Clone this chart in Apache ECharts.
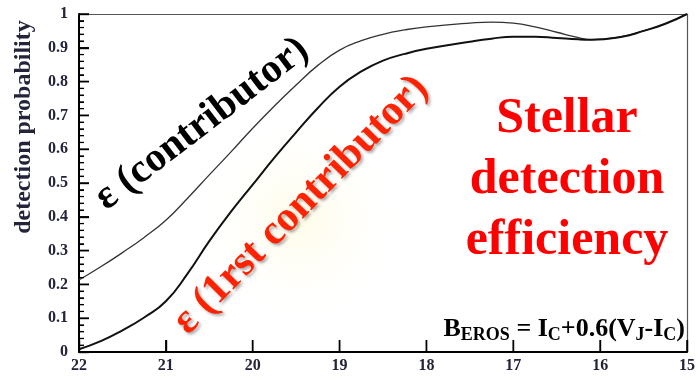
<!DOCTYPE html>
<html>
<head>
<meta charset="utf-8">
<script src="https://cdn.jsdelivr.net/npm/echarts@6/dist/echarts.min.js"></script>
<style>html,body{margin:0;padding:0;background:#fff;}#c{width:698px;height:380px;}</style>
</head>
<body>
<div id="c"></div>
<script>
// Magnitude B_EROS (x axis runs from 22 on the left to 15 on the right)
const magnitudes = [22, 21.75, 21.5, 21.25, 21, 20.75, 20.5, 20.25, 20, 19.75, 19.5, 19.25, 19, 18.75, 18.5, 18.25, 18, 17.5, 17.25, 17, 16.75, 16.5, 16.25, 16.1, 15.75, 15.5, 15.25, 15];
// ε (contributor)
const effContributor = [0.213, 0.252, 0.294, 0.339, 0.39, 0.455, 0.524, 0.592, 0.662, 0.728, 0.79, 0.848, 0.893, 0.921, 0.94, 0.953, 0.962, 0.973, 0.976, 0.973, 0.962, 0.946, 0.93, 0.924, 0.933, 0.95, 0.971, 1.0];
// ε (1rst contributor)
const effFirst = [0.008, 0.032, 0.064, 0.102, 0.15, 0.232, 0.328, 0.415, 0.495, 0.575, 0.65, 0.722, 0.785, 0.83, 0.862, 0.882, 0.897, 0.918, 0.927, 0.933, 0.933, 0.929, 0.925, 0.924, 0.933, 0.95, 0.971, 1.0];
// Axis ticks
const xTicks = [22, 21, 20, 19, 18, 17, 16, 15];
const yTicks = [0, 0.1, 0.2, 0.3, 0.4, 0.5, 0.6, 0.7, 0.8, 0.9, 1];
const yMinorPerMajor = 5;

const X_LEFT = 22, Y_BOTTOM = 0;
const yMinorTicks = [];
for (let i = 0; i < yTicks.length - 1; i++) {
  for (let k = 1; k < yMinorPerMajor; k++) {
    yMinorTicks.push(yTicks[i] + (yTicks[i + 1] - yTicks[i]) * k / yMinorPerMajor);
  }
}

const chart = echarts.init(document.getElementById('c'), null, {renderer: 'canvas'});
const serif = '"Liberation Serif", "DejaVu Serif", serif';
const tickColor = '#23233a';

const graphics = [
    {type: 'ellipse', id: 'glow', x: 300, y: 220, rotation: Math.PI / 4, z: 0, silent: true,
      shape: {cx: 0, cy: 0, rx: 210, ry: 110},
      style: {fill: new echarts.graphic.RadialGradient(0.5, 0.5, 0.5, [
        {offset: 0, color: 'rgba(255,250,215,0.6)'},
        {offset: 1, color: 'rgba(255,255,255,0)'}])}},
    {type: 'text', id: 'ytitle', x: 24, y: 127, rotation: Math.PI / 2, z: 10,
      style: {text: 'detection probability', x: 0, y: 0, align: 'center', verticalAlign: 'middle',
        font: 'bold 24px ' + serif, fill: tickColor}},
    {type: 'text', id: 'lab1', x: 202, y: 124, rotation: 37.5 * Math.PI / 180, z: 10,
      style: {text: 'ε (contributor)', x: 0, y: 0, align: 'center', verticalAlign: 'middle',
        font: 'bold 41px ' + serif, fill: '#000'}},
    {type: 'text', id: 'lab2', x: 301, y: 205, rotation: 45.5 * Math.PI / 180, z: 10,
      style: {text: 'ε (1rst contributor)', x: 0, y: 0, align: 'center', verticalAlign: 'middle',
        font: 'bold 42px ' + serif, fill: '#ff2200',
        textShadowColor: 'rgba(0,0,0,0.35)', textShadowBlur: 3, textShadowOffsetX: 2, textShadowOffsetY: 2}},
    {type: 'text', id: 'title', x: 567, y: 180, z: 10,
      style: {text: 'Stellar\ndetection\nefficiency', x: 0, y: 0, align: 'center', verticalAlign: 'middle',
        font: 'bold 50px ' + serif, lineHeight: 61, fill: '#ff0000'}},
    {type: 'text', id: 'formula', x: 685, y: 344, z: 10,
      style: {
        text: '{b|B}{s|EROS}{b| = I}{s|C}{b|+0.6(V}{s|J}{b|-I}{s|C}{b|)}',
        x: 0, y: 0, align: 'right', verticalAlign: 'bottom',
        rich: {
          b: {fontFamily: serif, fontWeight: 'bold', fontSize: 26, lineHeight: 28, padding: [0, 0, 4, 0], verticalAlign: 'top', color: '#1a1a30'},
          s: {fontFamily: serif, fontWeight: 'bold', fontSize: 18, lineHeight: 18, verticalAlign: 'bottom', color: '#1a1a30'}
        }
      }}
];

// Tick marks drawn as small rect symbols placed through the axis scales
function tickMarks(points, kind, len, width) {
  return {
    type: 'scatter', silent: true, clip: false, z: 20,
    data: points,
    symbol: 'rect',
    symbolSize: kind === 'x' ? [width, len] : [len, width],
    symbolOffset: kind === 'x' ? [0, -len / 2] : [len / 2, 0],
    itemStyle: {color: '#000', opacity: 1},
    emphasis: {disabled: true}
  };
}

const option = {
  animation: false,
  backgroundColor: '#ffffff',
  grid: {left: 79, right: 11, top: 14, bottom: 28},
  xAxis: [{
    type: 'value', min: 15, max: 22, interval: 1, inverse: true, position: 'bottom',
    axisLine: {show: true, onZero: false, lineStyle: {color: '#000', width: 2}},
    axisTick: {show: true, inside: true, length: 12, lineStyle: {color: '#000', width: 1.4}},
    axisLabel: {show: true, color: tickColor, fontFamily: serif, fontWeight: 'bold', fontSize: 16, margin: 6},
    splitLine: {show: false}
  }, {
    type: 'value', min: 15, max: 22, interval: 1, inverse: true, position: 'top',
    axisLine: {show: true, onZero: false, lineStyle: {color: '#555', width: 1.2}},
    axisTick: {show: false}, axisLabel: {show: false}, splitLine: {show: false}
  }],
  yAxis: [{
    type: 'value', min: 0, max: 1, interval: 0.1, position: 'left',
    axisLine: {show: true, onZero: false, lineStyle: {color: '#000', width: 2}},
    axisTick: {show: true, inside: true, length: 10, lineStyle: {color: '#000', width: 1.4}},
    minorTick: {show: true, splitNumber: 5, length: 5, lineStyle: {color: '#000', width: 1.1}},
    axisLabel: {show: true, color: tickColor, fontFamily: serif, fontWeight: 'bold', fontSize: 16, margin: 11},
    splitLine: {show: false}
  }, {
    type: 'value', min: 0, max: 1, interval: 0.1, position: 'right',
    axisLine: {show: true, onZero: false, lineStyle: {color: '#555', width: 1.2}},
    axisTick: {show: false}, axisLabel: {show: false}, splitLine: {show: false}
  }],
  graphic: graphics,
  series: [
    {type: 'line', data: magnitudes.map((m, i) => [m, effContributor[i]]), smooth: 0.5, symbol: 'none',
      lineStyle: {color: '#333', width: 1.3}, z: 5},
    {type: 'line', data: magnitudes.map((m, i) => [m, effFirst[i]]), smooth: 0.5, symbol: 'none',
      lineStyle: {color: '#111', width: 2}, z: 5},
    tickMarks(xTicks.map(v => [v, Y_BOTTOM]), 'x', 12, 1.5),
    tickMarks(yTicks.map(v => [X_LEFT, v]), 'y', 10, 1.5),
    tickMarks(yMinorTicks.map(v => [X_LEFT, v]), 'y', 5, 1.2)
  ]
};
chart.setOption(option);
</script>
</body>
</html>
